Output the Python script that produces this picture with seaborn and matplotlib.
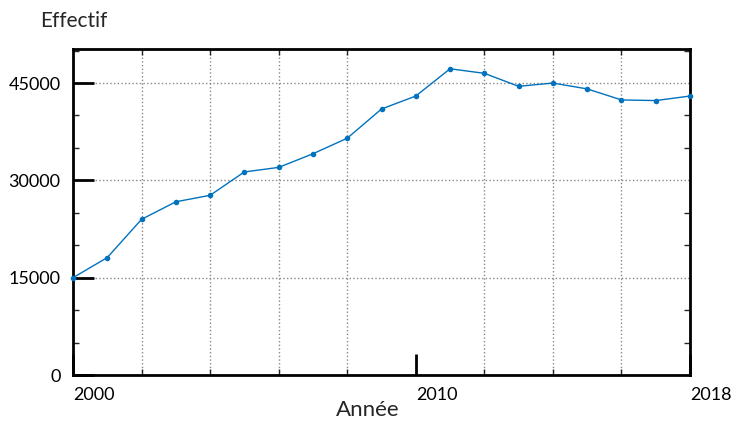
import pandas as pd
import numpy as np
import seaborn as sns
import matplotlib.pyplot as plt
from matplotlib.ticker import MultipleLocator, FixedLocator

# données
annees = [2000, 2001, 2002, 2003, 2004, 2005, 2006, 2007, 2008, 2009,
          2010, 2011, 2012, 2013, 2014, 2015, 2016, 2017, 2018]
effectif = [15000, 18100, 24000, 26700, 27700, 31300, 32000, 34100, 36500, 41000,
            43000, 47200, 46500, 44500, 45000, 44100, 42400, 42300, 43000]
xlabels = [2000, 2010, 2018]
ylabels = [0, 15000, 30000, 45000]

df = pd.DataFrame({'annee': annees, 'effectif': effectif})

sns.set_style('white')
plt.rcParams['font.family'] = ['Lato', 'DejaVu Sans']

fig = plt.figure(figsize=(7.32, 4.21), dpi=100)
ax = fig.add_axes([73/732, 1-375/421, (690-73)/732, (375-49)/421])

sns.lineplot(data=df, x='annee', y='effectif', ax=ax, color='#0072bd',
             linewidth=1, marker='o', markersize=4, markeredgewidth=0, clip_on=False, zorder=3)

ax.set_xlim(2000, 2018)
ax.set_ylim(0, 50250)

# ticks
ax.xaxis.set_major_locator(FixedLocator(xlabels))
ax.xaxis.set_minor_locator(MultipleLocator(2))
ax.yaxis.set_major_locator(FixedLocator(ylabels))
ax.yaxis.set_minor_locator(MultipleLocator(5000))
ax.set_xticklabels([str(v) for v in xlabels], ha='left')
ax.set_yticklabels([str(v) for v in ylabels])

ax.tick_params(which='major', direction='in', length=15, width=2, top=False, right=False,
               bottom=True, left=True, labelsize=13, colors='black')
ax.tick_params(axis='x', which='major', pad=9)
ax.tick_params(axis='y', which='major', pad=9)
ax.tick_params(which='minor', direction='in', length=4, width=1, top=True, right=True,
               bottom=True, left=True)

# grille pointillée
ax.grid(False)
ax.grid(axis='x', which='minor', linestyle=':', color='#888888', linewidth=1)
ax.grid(axis='y', which='major', linestyle=':', color='#888888', linewidth=1)

for s in ax.spines.values():
    s.set_linewidth(2)
    s.set_color('black')
    s.set_visible(True)

ax.set_xlabel('')
ax.set_ylabel('')
fig.text(40/732, 1-21/421, 'Effectif', fontsize=15, ha='left', va='center')
fig.text(368/732, 1-410/421, 'Année', fontsize=16, ha='center', va='center')

plt.savefig('out.png', dpi=100)
